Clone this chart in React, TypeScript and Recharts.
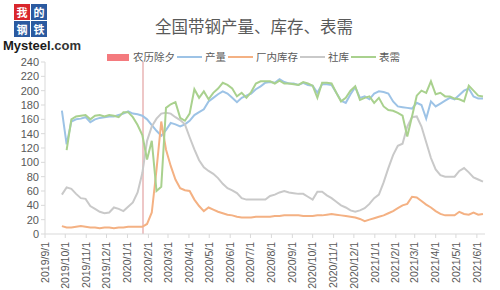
import { LineChart, Line, XAxis, YAxis, ReferenceLine } from 'recharts';

// weekly observation dates
const WEEKS = [
  '2019/9/26', '2019/10/3', '2019/10/10', '2019/10/17', '2019/10/24', '2019/10/31',
  '2019/11/7', '2019/11/14', '2019/11/21', '2019/11/28', '2019/12/5', '2019/12/12',
  '2019/12/19', '2019/12/26',
  '2020/1/2', '2020/1/9', '2020/1/16', '2020/1/23', '2020/1/30',
  '2020/2/6', '2020/2/13', '2020/2/20', '2020/2/27',
  '2020/3/5', '2020/3/12', '2020/3/19', '2020/3/26',
  '2020/4/2', '2020/4/9', '2020/4/16', '2020/4/23', '2020/4/30',
  '2020/5/7', '2020/5/14', '2020/5/21', '2020/5/28',
  '2020/6/4', '2020/6/11', '2020/6/18', '2020/6/25',
  '2020/7/2', '2020/7/9', '2020/7/16', '2020/7/23', '2020/7/30',
  '2020/8/6', '2020/8/13', '2020/8/20', '2020/8/27',
  '2020/9/3', '2020/9/10', '2020/9/17', '2020/9/24',
  '2020/10/1', '2020/10/8', '2020/10/15', '2020/10/22', '2020/10/29',
  '2020/11/5', '2020/11/12', '2020/11/19', '2020/11/26',
  '2020/12/3', '2020/12/10', '2020/12/17', '2020/12/24', '2020/12/31',
  '2021/1/7', '2021/1/14', '2021/1/21', '2021/1/28',
  '2021/2/4', '2021/2/11', '2021/2/18', '2021/2/25',
  '2021/3/4', '2021/3/11', '2021/3/18', '2021/3/25',
  '2021/4/1', '2021/4/8', '2021/4/15', '2021/4/22', '2021/4/29',
  '2021/5/6', '2021/5/13', '2021/5/20', '2021/5/27',
  '2021/6/3', '2021/6/10',
];

// 产量
const OUTPUT = [
  172, 125, 157, 160, 161, 163, 156, 160, 162, 163, 164, 164, 166, 168,
  171, 168, 167, 165, 160, 152, 144, 137, 145, 155, 153, 150, 153,
  158, 166, 170, 174, 185, 190, 195, 199, 196, 190, 184, 190, 193,
  196, 202, 206, 211, 212, 211, 216, 212, 210, 210, 208, 211, 208,
  207, 197, 209, 209, 208, 197, 186, 183, 195, 205, 190, 192, 188, 196,
  199, 198, 196, 185, 178, 177, 176, 175, 183, 180, 161, 185,
  178, 182, 186, 190, 188, 194, 200, 203, 192, 189, 189,
];

// 厂内库存
const FACTORY_STOCK = [
  11, 9, 9, 10, 11, 10, 9, 9, 8, 9, 9, 8, 9, 9,
  10, 10, 10, 10, 14, 30, 90, 157, 118, 95, 76, 64, 61,
  60, 48, 39, 32, 37, 34, 31, 29, 27, 26, 24, 23, 23,
  23, 24, 24, 24, 24, 25, 25, 26, 26, 26, 26, 25, 25,
  25, 26, 26, 27, 28, 27, 26, 25, 24, 23, 21, 18, 20, 22,
  24, 26, 29, 32, 36, 40, 42, 52, 51, 46, 41, 37,
  32, 28, 26, 26, 26, 31, 28, 27, 30, 27, 28,
];

// 社库
const SOCIAL_STOCK = [
  55, 65, 63, 56, 50, 49, 39, 35, 31, 29, 30, 37, 35, 32,
  38, 44, 58, 85, 130, 150, 161, 168, 169, 168, 163, 159, 153,
  135, 118, 103, 93, 88, 84, 78, 70, 64, 61, 57, 50, 48,
  48, 48, 48, 48, 53, 55, 58, 60, 58, 57, 56, 56, 52,
  48, 59, 59, 54, 50, 45, 40, 37, 33, 31, 33, 36, 42, 50,
  55, 72, 92, 110, 123, 126, 150, 163, 164, 150, 128, 106,
  90, 82, 80, 80, 80, 88, 92, 86, 79, 76, 73,
];

// 表需
const DEMAND = [
  null, 117, 160, 164, 165, 166, 160, 165, 166, 164, 166, 165, 163, 170,
  170, 163, 152, 138, 104, 130, 60, 66, 176, 181, 184, 162, 158,
  168, 202, 190, 199, 188, 197, 203, 211, 208, 203, 192, 197, 190,
  198, 210, 213, 213, 213, 210, 214, 210, 210, 209, 208, 212, 210,
  207, 190, 211, 211, 210, 197, 185, 190, 200, 206, 187, 190, 192, 183,
  190, 178, 173, 172, 169, 165, 136, 164, 193, 200, 197, 213,
  195, 197, 192, 192, 189, 188, 185, 207, 200, 193, 192,
];

const MONTH_TICKS = [
  '2019/9/1', '2019/10/1', '2019/11/1', '2019/12/1', '2020/1/1', '2020/2/1',
  '2020/3/1', '2020/4/1', '2020/5/1', '2020/6/1', '2020/7/1', '2020/8/1',
  '2020/9/1', '2020/10/1', '2020/11/1', '2020/12/1', '2021/1/1', '2021/2/1',
  '2021/3/1', '2021/4/1', '2021/5/1', '2021/6/1',
];
const Y_TICKS = [0, 20, 40, 60, 80, 100, 120, 140, 160, 180, 200, 220, 240];
const CHUXI = '2020/1/24';
const X_START = '2019/9/1';
const X_END = '2021/6/13';

const SERIES = [
  { key: 'output', name: '产量', color: '#9dc3e6' },
  { key: 'factory', name: '厂内库存', color: '#f4b183' },
  { key: 'social', name: '社库', color: '#c9c9c9' },
  { key: 'demand', name: '表需', color: '#a9d18e' },
];
const CHUXI_COLOR = '#f47a7e';

const toTs = (s: string) => {
  const [y, m, d] = s.split('/').map(Number);
  return Date.UTC(y, m - 1, d);
};
const fmt = (t: number) => {
  const d = new Date(t);
  return `${d.getUTCFullYear()}/${d.getUTCMonth() + 1}/${d.getUTCDate()}`;
};

const data = WEEKS.map((w, i) => ({
  t: toTs(w),
  output: OUTPUT[i],
  factory: FACTORY_STOCK[i],
  social: SOCIAL_STOCK[i],
  demand: DEMAND[i],
}));

const FONT = "'Liberation Sans', 'Noto Sans CJK SC', sans-serif";
const TEXT = '#595959';

const XTick = ({ x, y, payload }: any) => (
  <text
    x={0}
    y={0}
    transform={`translate(${x},${y}) rotate(-90)`}
    textAnchor="end"
    dy="0.35em"
    fontSize={10.5}
    fontFamily={FONT}
    fill={TEXT}
  >
    {fmt(payload.value)}
  </text>
);

function Logo() {
  const cell = (ch: string, bg: string, left: number, top: number) => (
    <div
      style={{
        position: 'absolute', left, top, width: 16, height: 16, background: bg,
        display: 'flex', alignItems: 'center', justifyContent: 'center',
      }}
    >
      <span
        style={{
          color: '#fff', fontSize: 11, lineHeight: '11px', fontWeight: 'bold',
          fontFamily: "'Noto Sans CJK SC', sans-serif",
        }}
      >
        {ch}
      </span>
    </div>
  );
  return (
    <>
      {cell('我', '#d9262c', 14, 4)}
      {cell('的', '#2b5aa0', 31, 4)}
      {cell('钢', '#2b5aa0', 14, 21)}
      {cell('铁', '#2b5aa0', 31, 21)}
      <div
        style={{
          position: 'absolute', left: 3, top: 39, fontSize: 13, fontWeight: 'bold',
          fontFamily: "'Liberation Sans', sans-serif", color: '#1a1a1a', lineHeight: '14px',
        }}
      >
        Mysteel<span style={{ color: '#333' }}>.com</span>
      </div>
    </>
  );
}

function TopLegend() {
  return (
    <div
      style={{
        position: 'absolute', left: 107, top: 50, display: 'flex', alignItems: 'center',
        fontSize: 10.5, color: TEXT, fontFamily: FONT, lineHeight: '14px', whiteSpace: 'nowrap',
      }}
    >
      <span style={{ width: 22, height: 7, background: CHUXI_COLOR, marginRight: 4 }} />
      <span style={{ marginRight: 2 }}>农历除夕</span>
      {SERIES.map((s) => (
        <span key={s.key} style={{ display: 'flex', alignItems: 'center', marginRight: 2 }}>
          <span style={{ width: 25, height: 2, background: s.color, marginRight: 3 }} />
          <span>{s.name}</span>
        </span>
      ))}
    </div>
  );
}

export default function App() {
  return (
    <div style={{ position: 'absolute', left: 0, top: 0, width: 500, height: 290, background: '#fff' }}>
      <LineChart width={500} height={290} data={data} margin={{ top: 62, right: 15, bottom: 0, left: 0 }}>
        <XAxis
          dataKey="t"
          type="number"
          domain={[toTs(X_START), toTs(X_END)]}
          ticks={MONTH_TICKS.map(toTs)}
          interval={0}
          tick={<XTick />}
          height={56}
          tickSize={4}
          tickMargin={4}
          stroke="#d9d9d9"
          allowDataOverflow
        />
        <YAxis
          domain={[0, 240]}
          ticks={Y_TICKS}
          interval={0}
          width={45}
          tickSize={4}
          stroke="#d9d9d9"
          tick={{ fontSize: 11, fill: TEXT, fontFamily: FONT }}
        />
        <ReferenceLine x={toTs(CHUXI)} stroke="#e3a2a2" strokeWidth={1.2} />
        {SERIES.map((s) => (
          <Line
            key={s.key}
            type="linear"
            dataKey={s.key}
            name={s.name}
            stroke={s.color}
            strokeWidth={2}
            dot={false}
            isAnimationActive={false}
          />
        ))}
      </LineChart>
      <Logo />
      <div
        style={{
          position: 'absolute', left: 155, top: 18, fontSize: 16.5, lineHeight: '17px',
          color: TEXT, fontFamily: "'Noto Sans CJK SC', sans-serif", whiteSpace: 'nowrap',
        }}
      >
        全国带钢产量、库存、表需
      </div>
      <TopLegend />
    </div>
  );
}
